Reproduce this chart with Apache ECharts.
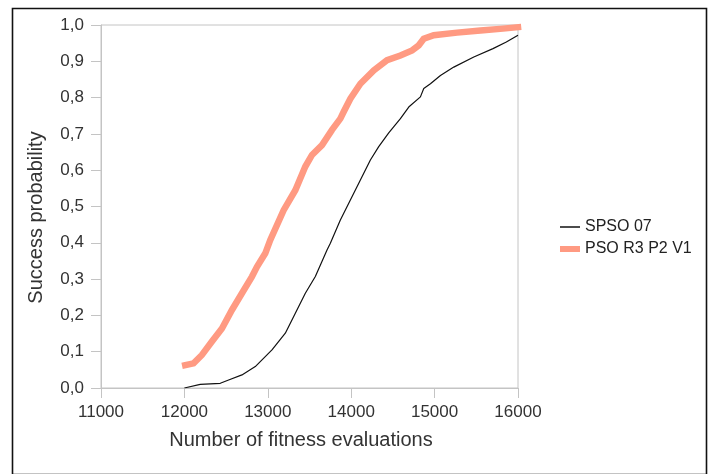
<!DOCTYPE html>
<html>
<head>
<meta charset="utf-8">
<script src="https://cdn.jsdelivr.net/npm/echarts@6/dist/echarts.min.js"></script>
<style>html,body{margin:0;padding:0;background:#fff}#c{width:713px;height:474px}</style>
</head>
<body>
<div id="c"></div>
<script>
var seriesNames = ['SPSO 07', 'PSO R3 P2 V1'];
var xTicks = [11000, 12000, 13000, 14000, 15000, 16000];
var yTicks = [0, 0.1, 0.2, 0.3, 0.4, 0.5, 0.6, 0.7, 0.8, 0.9, 1.0];
var spso07 = [
  [12000,0],[12190,0.010],[12430,0.013],[12530,0.022],[12690,0.036],[12850,0.059],
  [13050,0.105],[13210,0.151],[13330,0.206],[13450,0.261],[13570,0.307],[13710,0.380],
  [13750,0.399],[13870,0.463],[13990,0.518],[14110,0.573],[14230,0.628],[14330,0.665],
  [14450,0.703],[14590,0.742],[14690,0.774],[14830,0.802],[14870,0.825],[14950,0.838],
  [15070,0.861],[15230,0.884],[15470,0.912],[15700,0.935],[15860,0.953],[16000,0.972]
];
var psoR3P2V1 = [
  [12010,0.063],[12110,0.068],[12210,0.091],[12330,0.128],[12450,0.164],[12570,0.215],
  [12690,0.261],[12810,0.307],[12870,0.334],[12970,0.371],[13030,0.408],[13190,0.490],
  [13330,0.545],[13450,0.610],[13530,0.642],[13650,0.669],[13770,0.711],[13870,0.742],
  [13910,0.761],[13990,0.797],[14110,0.838],[14270,0.875],[14430,0.903],[14590,0.916],
  [14730,0.930],[14810,0.944],[14870,0.962],[14990,0.972],[15270,0.979],[15550,0.985],
  [15820,0.990],[16000,0.994]
];

var FONT = '"Liberation Sans", Arial, sans-serif';
var chart = echarts.init(document.getElementById('c'), null, {renderer: 'canvas'});
chart.setOption({
  animation: false,
  backgroundColor: '#ffffff',
  graphic: [{
    type: 'rect', left: 10, top: 6, silent: true,
    shape: {x: 0, y: 0, width: 694, height: 466},
    style: {fill: 'none', stroke: '#111', lineWidth: 1.6}
  }],
  grid: {left: 101, right: 195, top: 25, bottom: 86, show: true, borderColor: '#c4c4c4', borderWidth: 1, backgroundColor: 'transparent'},
  legend: {
    orient: 'vertical', left: 560, top: 219, padding: 0,
    itemWidth: 20, itemHeight: 14, itemGap: 6,
    textStyle: {fontFamily: FONT, fontSize: 16, color: '#222', lineHeight: 16},
    data: [
      {name: seriesNames[0], icon: 'path://M0,0L20,0L20,1.5L0,1.5Z', itemStyle: {color: '#111'}},
      {name: seriesNames[1], icon: 'path://M0,0L20,0L20,6L0,6Z', itemStyle: {color: '#ff9a82'}}
    ]
  },
  xAxis: {
    type: 'value', min: xTicks[0], max: xTicks[xTicks.length - 1], interval: 1000,
    name: 'Number of fitness evaluations', nameLocation: 'middle', nameGap: 42,
    nameTextStyle: {fontFamily: FONT, fontSize: 20, color: '#333', padding: [0, 17, 0, 0]},
    axisLine: {lineStyle: {color: '#c4c4c4', width: 1}},
    axisTick: {show: true, inside: false, length: 10, lineStyle: {color: '#c4c4c4'}},
    axisLabel: {fontFamily: FONT, fontSize: 17, color: '#333', margin: 16, formatter: function (v) { return String(v); }},
    splitLine: {show: false}
  },
  yAxis: {
    type: 'value', min: yTicks[0], max: yTicks[yTicks.length - 1], interval: 0.1,
    name: 'Success probability', nameLocation: 'middle', nameGap: 55, nameRotate: 90,
    nameTextStyle: {fontFamily: FONT, fontSize: 20, color: '#333', padding: [0, 22, 0, 0]},
    axisLine: {show: true, lineStyle: {color: '#c4c4c4', width: 1}},
    axisTick: {show: true, inside: false, length: 10, lineStyle: {color: '#c4c4c4'}},
    axisLabel: {fontFamily: FONT, fontSize: 17, color: '#333', margin: 17, formatter: function (v) { return v.toFixed(1).replace('.', ','); }},
    splitLine: {show: false}
  },
  series: [
    {
      name: seriesNames[1], type: 'line', data: psoR3P2V1, showSymbol: false, symbol: 'none',
      lineStyle: {color: '#ff9a82', width: 6.5, cap: 'square', join: 'miter'},
      itemStyle: {color: '#ff9a82'}, z: 2
    },
    {
      name: seriesNames[0], type: 'line', data: spso07, showSymbol: false, symbol: 'none',
      lineStyle: {color: '#111', width: 1.2},
      itemStyle: {color: '#111'}, z: 3
    }
  ]
});
</script>
</body>
</html>
